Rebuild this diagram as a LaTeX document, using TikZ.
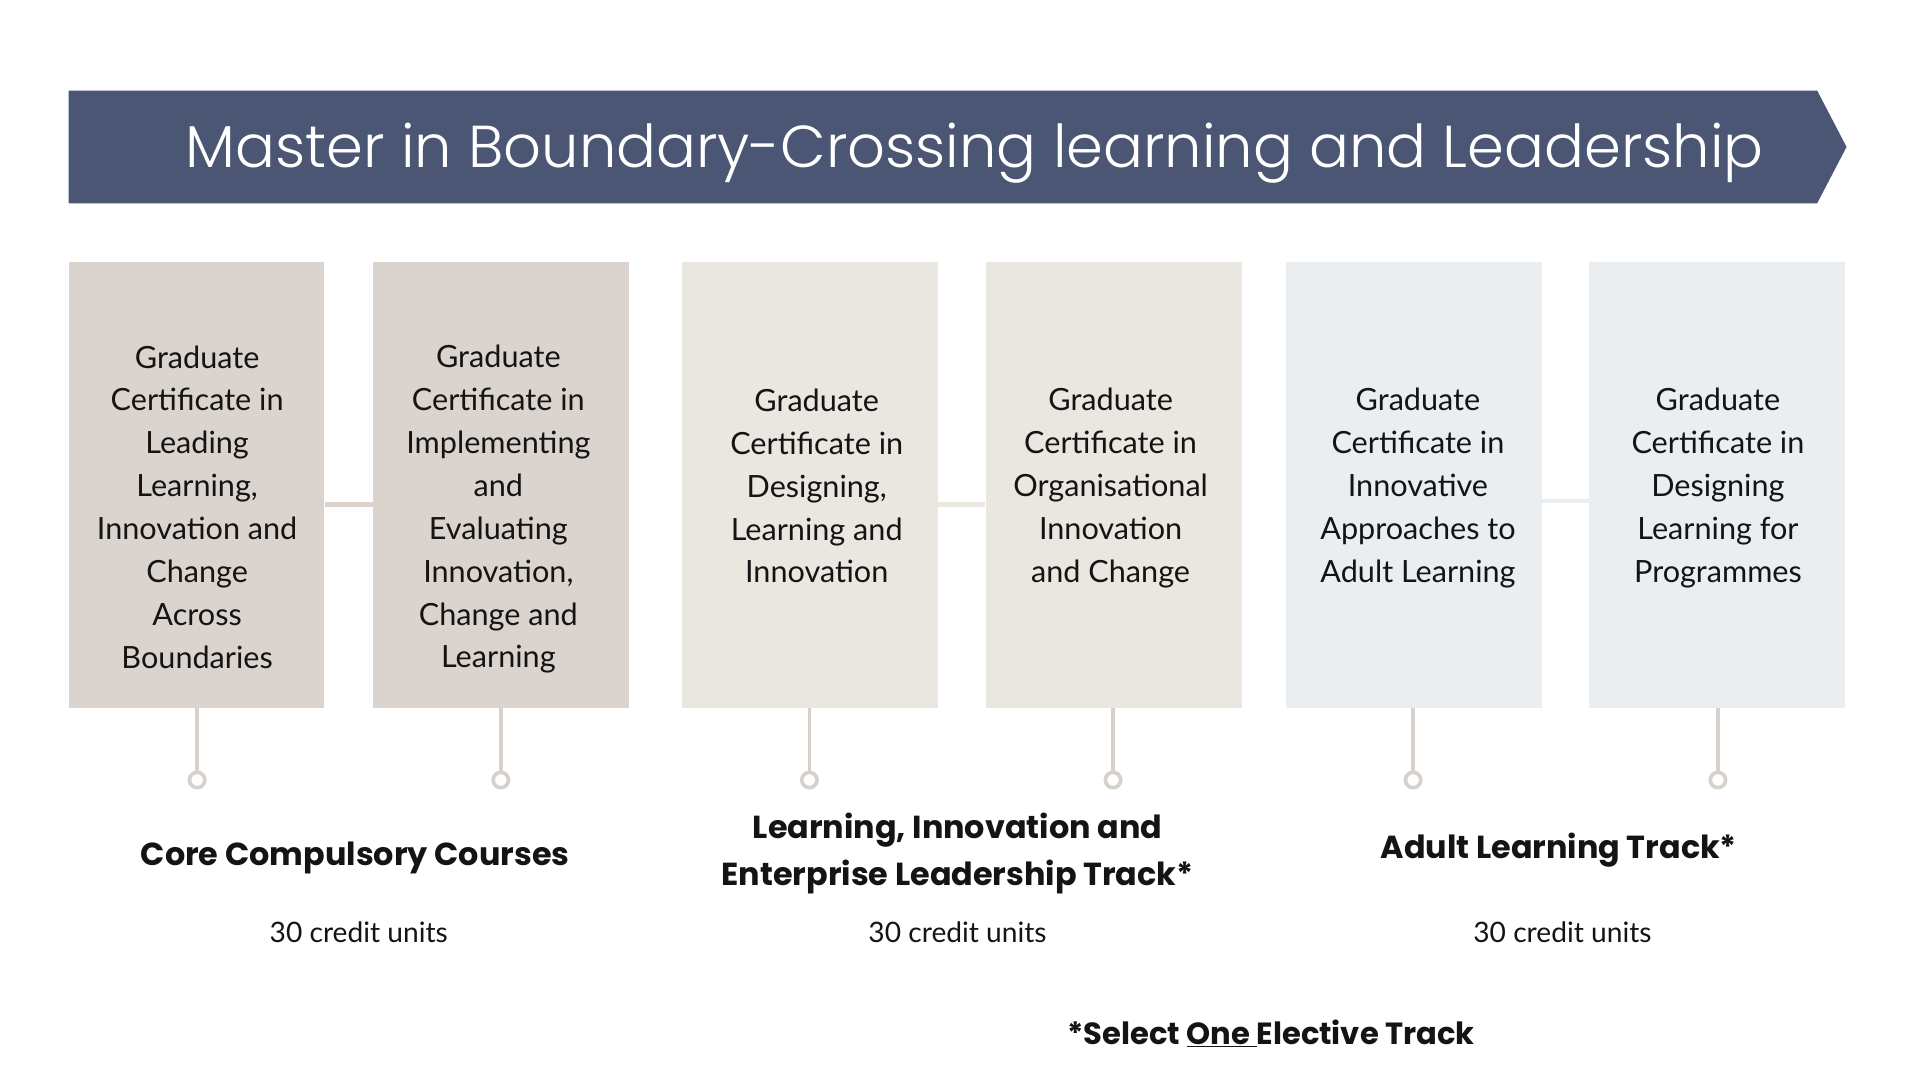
\documentclass[tikz,border=0pt]{standalone}
\usepackage{fontspec}
\setmainfont{Lato}
\newfontfamily\titlefont{Poppins Light}
\newfontfamily\labfont{Poppins}[BoldFont={Poppins Bold}]
\definecolor{banner}{HTML}{4B5675}
\definecolor{taupe}{HTML}{DBD3CD}
\definecolor{sand}{HTML}{EAE6E0}
\definecolor{mist}{HTML}{EAEEF1}
\definecolor{stemc}{HTML}{D8D0CA}
\definecolor{ink}{HTML}{141414}
\begin{document}
\begin{tikzpicture}[x=1pt,y=-1pt,
  box/.style={minimum width=209pt,minimum height=364pt,inner sep=0pt,draw=none},
  boxtext/.style={align=center,text=ink,font=\fontsize{25}{35}\selectfont},
  pairline/.style={line width=3.5pt},
  stem/.style={draw=stemc,line width=3pt},
  dotnode/.style={circle,draw=stemc,line width=3pt,fill=white,minimum size=12.5pt,inner sep=0pt},
  tracklabel/.style={align=center,text=ink,font=\labfont\bfseries\fontsize{26}{38}\selectfont},
  credit/.style={text=ink,font=\fontsize{23}{26}\selectfont}]
\useasboundingbox (0,0) rectangle (1568,882);
\fill[white] (0,0) rectangle (1568,882);
% banner
\fill[banner] (56,74) -- (1484,74) -- (1508,120) -- (1484,166) -- (56,166) -- cycle;
\node[text=white,font=\titlefont\fontsize{48.3}{52}\selectfont] (title) at (796,125) {Master in Boundary-Crossing learning and Leadership};
% boxes
\node[box,fill=taupe] (b1) at (160.5,396) {};
\node[box,fill=taupe] (b2) at (409.5,396) {};
\node[box,fill=sand]  (b3) at (661.5,396) {};
\node[box,fill=sand]  (b4) at (909.5,396) {};
\node[box,fill=mist]  (b5) at (1154.5,396) {};
\node[box,fill=mist]  (b6) at (1402.5,396) {};
% box texts
\node[boxtext] (t1) at (161,414) {Graduate\\Certificate in\\Leading\\Learning,\\Innovation and\\Change\\Across\\Boundaries};
\node[boxtext] (t2) at (407,416) {Graduate\\Certificate in\\Implementing\\and\\Evaluating\\Innovation,\\Change and\\Learning};
\node[boxtext] (t3) at (667,397) {Graduate\\Certificate in\\Designing,\\Learning and\\Innovation};
\node[boxtext] (t4) at (907,398.5) {Graduate\\Certificate in\\Organisational\\Innovation\\and Change};
\node[boxtext] (t5) at (1158,398.5) {Graduate\\Certificate in\\Innovative\\Approaches to\\Adult Learning};
\node[boxtext] (t6) at (1403,398.5) {Graduate\\Certificate in\\Designing\\Learning for\\Programmes};
% pair connectors
\draw[pairline,draw=taupe] ([yshift=-16pt]b1.east) -- ([yshift=-16pt]b2.west);
\draw[pairline,draw=sand]  ([yshift=-16pt]b3.east) -- ([yshift=-16pt]b4.west);
\draw[pairline,draw=mist]  ([yshift=-13pt]b5.east) -- ([yshift=-13pt]b6.west);
% stems and dots
\foreach \i/\x in {1/161,2/409,3/661,4/909,5/1154,6/1403}{
  \node[dotnode] (d\i) at (\x,637) {};
  \draw[stem] (b\i.south -| d\i) -- (d\i.north);
}
% track labels
\node[tracklabel] (l1) at (290,701) {Core Compulsory Courses};
\node[tracklabel] (l2) at (782,697) {Learning, Innovation and\\Enterprise Leadership Track*};
\node[tracklabel] (l3) at (1273,694) {Adult Learning Track*};
\node[credit] (c1) at (293,761) {30 credit units};
\node[credit] (c2) at (782,761) {30 credit units};
\node[credit] (c3) at (1276,761) {30 credit units};
\node[tracklabel,font=\labfont\bfseries\fontsize{25}{30}\selectfont] (note) at (1038,844) {*Select \underline{One\ }Elective Track};
\end{tikzpicture}
\end{document}
